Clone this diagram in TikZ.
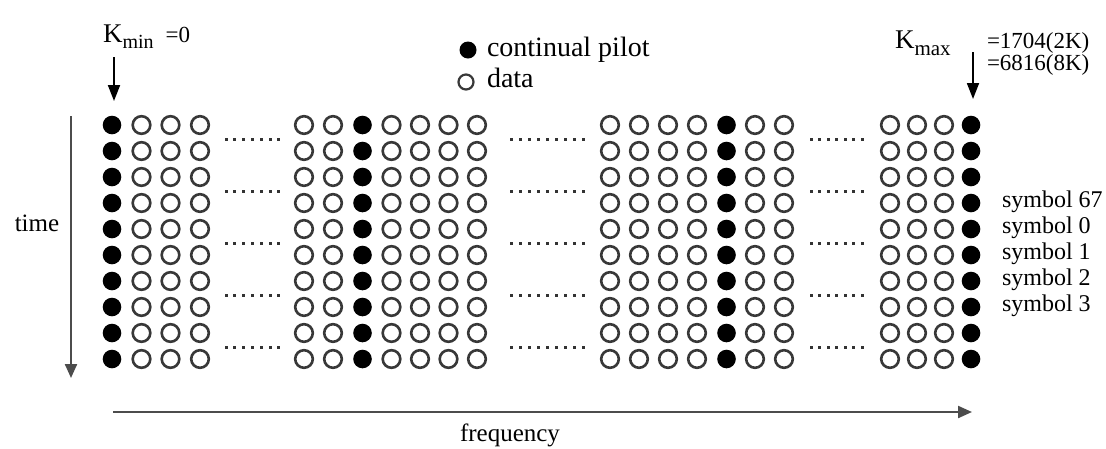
\documentclass[tikz,border=0pt]{standalone}
\usepackage{fontspec}
\setmainfont{Liberation Serif}
\usetikzlibrary{arrows.meta}
\newcommand{\fs}[1]{\fontsize{#1}{#1}\selectfont}
\begin{document}
\begin{tikzpicture}[x=1pt,y=-1pt,
  ring/.style={draw=black!78,line width=2.6pt},
  lbl/.style={inner sep=0pt,outer sep=0pt},
  axis/.style={draw=black!70,line width=2.2pt,-{Triangle[width=12pt,length=14pt]}},
  karrow/.style={draw=black,line width=1.8pt,-{Triangle[width=12pt,length=16pt]}},
  dotmark/.style={fill=black!80},
]
\useasboundingbox[fill=white] (0,0) rectangle (1106,448);

% grid of subcarriers
\foreach \r in {0,...,9}{
  \pgfmathsetmacro{\yy}{125+26*\r}
  \foreach \x in {141.5,170.5,200,304,333,391.5,420,448.5,477,610,639,668,697,755,784,890,917,944}{
    \draw[ring] (\x,\yy) circle[radius=8.8pt];
  }
  \foreach \x in {112,362.5,726.5,971}{
    \fill (\x,\yy) circle[radius=9.3pt];
  }
}
% dotted continuation marks
\foreach \k in {0,...,4}{
  \pgfmathsetmacro{\yy}{139+52*\k}
  \foreach \i in {0,...,6}{\fill[dotmark] (226+\i*8.8-1.5,\yy-1.5) rectangle ++(3,3);}
  \foreach \i in {0,...,8}{\fill[dotmark] (511+\i*9.1-1.5,\yy-1.5) rectangle ++(3,3);}
  \foreach \i in {0,...,6}{\fill[dotmark] (811+\i*8.5-1.5,\yy-1.5) rectangle ++(3,3);}
}

% K_min
\node[lbl,anchor=base west] (kmin) at (103,42)
  {\fs{27}K\raisebox{-6pt}{\fs{20}min}\hspace{12pt}\fs{23}=0};
\coordinate (kminS) at (114,57);
\coordinate (kminE) at (114,101);
\draw[karrow] (kminS) -- (kminE);

% K_max
\node[lbl,anchor=base west] (kmax) at (895,48)
  {\fs{27}K\raisebox{-7pt}{\fs{21}max}};
\node[lbl,anchor=base west] (k2k) at (987,48) {\fs{23}=1704(2K)};
\node[lbl,anchor=base west] (k8k) at (987,70) {\fs{23}=6816(8K)};
\coordinate (kmaxS) at (973,52);
\coordinate (kmaxE) at (973,99);
\draw[karrow] (kmaxS) -- (kmaxE);

% legend
\fill (468,50) circle[radius=8.5pt];
\draw[ring,line width=2.2pt] (466,82) circle[radius=7.5pt];
\node[lbl,anchor=base west] (lpilot) at (487,56) {\fs{28}continual pilot};
\node[lbl,anchor=base west] (ldata) at (487,87) {\fs{28}data};

% axes
\node[lbl,anchor=base] (time) at (37,231) {\fs{25}time};
\coordinate (tS) at (71,116);
\coordinate (tE) at (71,378);
\draw[axis] (tS) -- (tE);
\node[lbl,anchor=base] (freq) at (510,441) {\fs{25}frequency};
\coordinate (fS) at (113,412);
\coordinate (fE) at (972,412);
\draw[axis] (fS) -- (fE);

% symbol labels
\node[lbl,anchor=base west] (s67) at (1002,207.5) {\fs{24}symbol 67};
\node[lbl,anchor=base west] (s0) at (1002,233.5) {\fs{24}symbol 0};
\node[lbl,anchor=base west] (s1) at (1002,259.5) {\fs{24}symbol 1};
\node[lbl,anchor=base west] (s2) at (1002,285.5) {\fs{24}symbol 2};
\node[lbl,anchor=base west] (s3) at (1002,311.5) {\fs{24}symbol 3};
\end{tikzpicture}
\end{document}
